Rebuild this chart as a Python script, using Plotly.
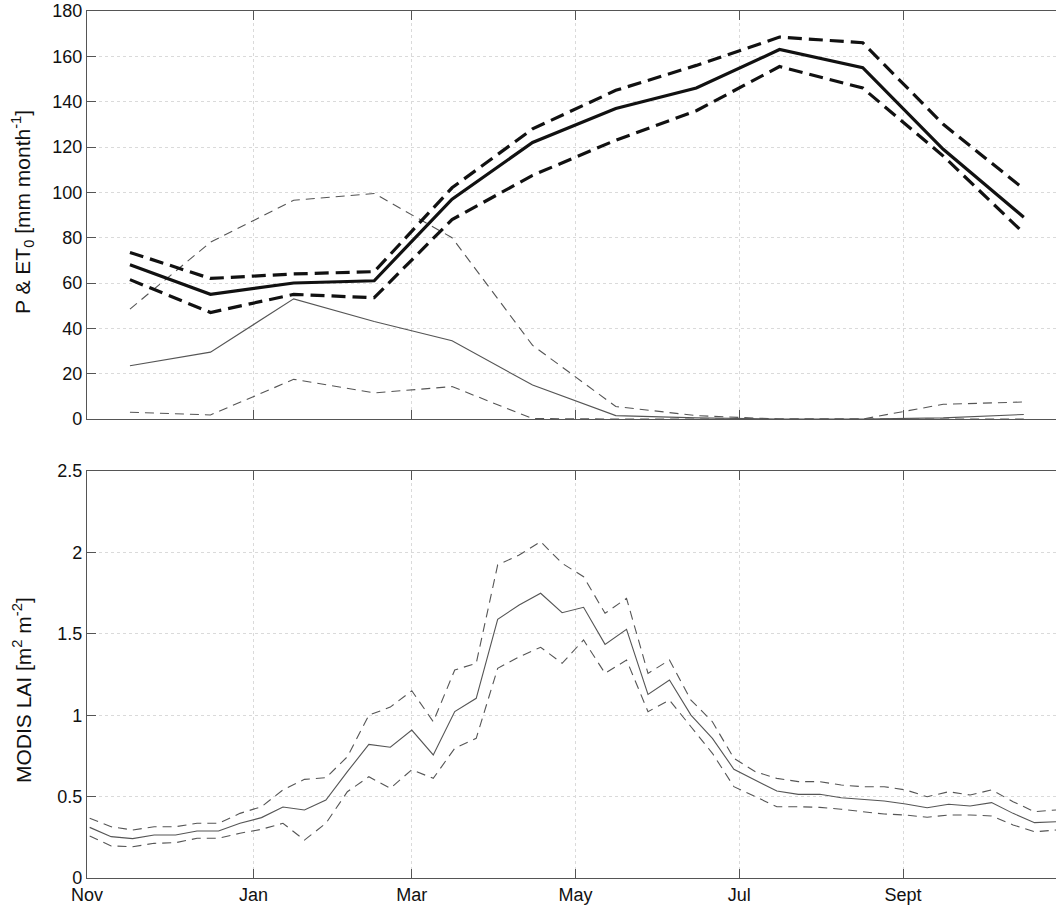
import plotly.graph_objects as go

# ---------------- data ----------------
# top panel: monthly values (day index from 1 Nov)
month_day = [16, 46, 77, 107, 136, 166, 197, 227, 258, 289, 319, 349]
et0_mean = [68, 55, 60, 61, 97, 122, 137, 146, 163, 155, 119, 89]
et0_upper = [73.5, 62, 64, 65, 102, 128, 145, 156, 168.5, 166, 130, 101.5]
et0_lower = [61.5, 47, 55, 53.5, 88, 107.5, 123, 136, 155.5, 146, 116, 82]
p_mean = [23.5, 29.5, 53, 43, 34.5, 15, 1.5, 0.5, 0, 0, 0.5, 2]
p_upper = [48.5, 78, 96.5, 99.5, 80, 32.5, 5.5, 1.5, 0, 0, 6.5, 7.5]
p_lower = [3, 1.8, 17.5, 11.5, 14.3, 0.2, 0, 0, 0, 0, 0, 0]

# bottom panel: 8-day MODIS LAI
lai_day = list(range(1, 362, 8))
lai_mean = [0.311, 0.254, 0.242, 0.264, 0.264, 0.289, 0.289, 0.336, 0.371, 0.436,
            0.418, 0.479, 0.653, 0.821, 0.803, 0.909, 0.756, 1.022, 1.104, 1.589,
            1.677, 1.749, 1.630, 1.663, 1.435, 1.527, 1.128, 1.216, 1.001, 0.858,
            0.668, 0.602, 0.534, 0.514, 0.514, 0.493, 0.483, 0.473, 0.455, 0.432,
            0.453, 0.442, 0.463, 0.397, 0.340, 0.346]
lai_upper = [0.367, 0.315, 0.295, 0.315, 0.315, 0.336, 0.336, 0.397, 0.438, 0.541,
             0.606, 0.616, 0.745, 1.00, 1.05, 1.15, 0.96, 1.278, 1.319, 1.923,
             1.984, 2.066, 1.933, 1.851, 1.626, 1.718, 1.257, 1.339, 1.093, 0.960,
             0.735, 0.653, 0.612, 0.592, 0.592, 0.571, 0.561, 0.561, 0.541, 0.499,
             0.530, 0.510, 0.541, 0.469, 0.407, 0.418]
lai_lower = [0.258, 0.197, 0.192, 0.213, 0.217, 0.244, 0.244, 0.275, 0.299, 0.336,
             0.233, 0.336, 0.530, 0.622, 0.551, 0.665, 0.612, 0.797, 0.858, 1.288,
             1.359, 1.417, 1.319, 1.462, 1.257, 1.339, 1.022, 1.093, 0.929, 0.766,
             0.561, 0.499, 0.438, 0.438, 0.434, 0.422, 0.407, 0.393, 0.387, 0.373,
             0.387, 0.387, 0.381, 0.326, 0.284, 0.295]

tick_days = [0, 62, 121, 182, 243, 304]
tick_labels = ["Nov", "Jan", "Mar", "May", "Jul", "Sept"]
top_yticks = [0, 20, 40, 60, 80, 100, 120, 140, 160, 180]
bot_yticks = [0, 0.5, 1, 1.5, 2, 2.5]
bot_ylabels = ["0", "0.5", "1", "1.5", "2", "2.5"]
top_title = "P & ET<sub>0</sub> [mm month<sup>-1</sup>]"
bot_title = "MODIS LAI [m<sup>2</sup> m<sup>-2</sup>]"

# ---------------- figure ----------------
fig = go.Figure()

THICK = dict(color="#111111", width=3.2)
THIN = dict(color="#555555", width=1.1)
THICK_DASH = "14px,7px"
THIN_DASH = "9px,6px"

def add(x, y, line, dash, xa, ya):
    ln = dict(line)
    ln["dash"] = dash
    fig.add_trace(go.Scatter(x=x, y=y, mode="lines", line=ln, xaxis=xa, yaxis=ya,
                             showlegend=False, hoverinfo="skip"))

add(month_day, p_upper, THIN, THIN_DASH, "x", "y")
add(month_day, p_lower, THIN, THIN_DASH, "x", "y")
add(month_day, p_mean, THIN, "solid", "x", "y")
add(month_day, et0_upper, THICK, THICK_DASH, "x", "y")
add(month_day, et0_lower, THICK, THICK_DASH, "x", "y")
add(month_day, et0_mean, THICK, "solid", "x", "y")

add(lai_day, lai_upper, THIN, THIN_DASH, "x2", "y2")
add(lai_day, lai_lower, THIN, THIN_DASH, "x2", "y2")
add(lai_day, lai_mean, THIN, "solid", "x2", "y2")

FONT = dict(family="Liberation Sans, Arial, sans-serif", size=18, color="#111111")
TITLE_FONT = dict(family="Liberation Sans, Arial, sans-serif", size=21, color="#111111")

common_x = dict(range=[0, 361], tickmode="array", tickvals=tick_days,
                showline=True, linecolor="#555555", linewidth=1.2, mirror="ticks",
                ticks="inside", ticklen=9, tickcolor="#555555",
                showgrid=True, gridcolor="#dadada", griddash="dot", gridwidth=1,
                zeroline=False, tickfont=FONT, automargin=False)
common_y = dict(showline=True, linecolor="#555555", linewidth=1.2, mirror=False,
                ticks="inside", ticklen=9, tickcolor="#555555",
                showgrid=True, gridcolor="#dadada", griddash="dot", gridwidth=1,
                zeroline=False, tickfont=FONT, automargin=False)

L, T, B = 87, 11, 27
W, H = 1056, 905
plot_w = W - L
plot_h = H - T - B

def px_x(px):
    return (px - L) / plot_w

def px_y(py):
    return (H - B - py) / plot_h

fig.update_layout(
    width=W, height=H,
    margin=dict(l=L, r=0, t=T, b=B),
    paper_bgcolor="white", plot_bgcolor="white",
    font=FONT,
    xaxis=dict(common_x, anchor="y", showticklabels=False, ticktext=tick_labels),
    yaxis=dict(common_y, domain=[0.5294, 1.0], range=[0, 180], tickvals=top_yticks),
    xaxis2=dict(common_x, anchor="y2", ticktext=tick_labels),
    yaxis2=dict(common_y, domain=[0.0, 0.4694], range=[0, 2.5], tickmode="array",
                tickvals=bot_yticks, ticktext=bot_ylabels),
    annotations=[
        dict(text=top_title, textangle=-90, xref="paper", yref="paper",
             x=px_x(22), y=px_y(212), xanchor="center", yanchor="middle",
             showarrow=False, font=TITLE_FONT),
        dict(text=bot_title, textangle=-90, xref="paper", yref="paper",
             x=px_x(22), y=px_y(690), xanchor="center", yanchor="middle",
             showarrow=False, font=TITLE_FONT),
    ],
)

# remove the default 8px page margin so the figure sits at the window's corner
fig.write_html("out.html", config={"displayModeBar": False},
               post_script="document.body.style.margin='0px';document.body.style.overflow='hidden';")
